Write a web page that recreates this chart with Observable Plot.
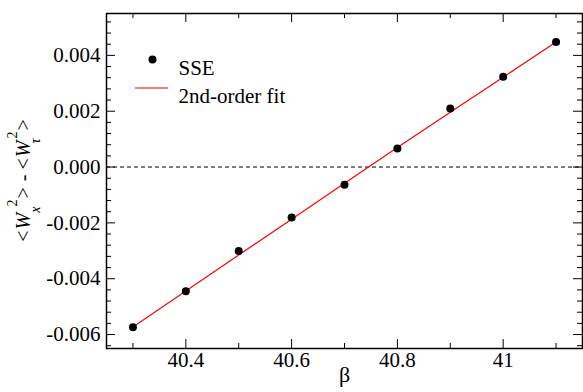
<!DOCTYPE html>
<html><head><meta charset="utf-8">
<script src="https://cdn.jsdelivr.net/npm/d3@7"></script>
<script src="https://cdn.jsdelivr.net/npm/@observablehq/plot@0.6"></script>
<style>
body{margin:0;background:#fff}
svg{display:block}
svg, svg text, svg tspan { font-family: "Liberation Serif", "DejaVu Serif", serif !important; }
</style>
</head><body><div id="chart"></div>
<script>
// ---- data ----
const beta = [40.3, 40.4, 40.5, 40.6, 40.7, 40.8, 40.9, 41.0, 41.1];
const sse  = [-0.00574, -0.00445, -0.00301, -0.00181, -0.00063, 0.00066, 0.00210, 0.00323, 0.00448];
const fit  = [-0.00573, -0.00444, -0.00315, -0.00187, -0.00058, 0.00070, 0.00196, 0.00322, 0.00448];
const xMajorTicks = [40.4, 40.6, 40.8, 41.0];
const xMinorTicks = [40.3, 40.5, 40.7, 40.9, 41.1];
const yMajorTicks = [-0.006, -0.004, -0.002, 0, 0.002, 0.004];
const yMinorTicks = [-0.0064, -0.0056, -0.0052, -0.0048, -0.0044, -0.0036, -0.0032, -0.0028, -0.0024,
                     -0.0016, -0.0012, -0.0008, -0.0004, 0.0004, 0.0008, 0.0012, 0.0016,
                     0.0024, 0.0028, 0.0032, 0.0036, 0.0044, 0.0048, 0.0052];
const xTickLabels = ["40.4", "40.6", "40.8", "41"];
const yTickLabels = ["-0.006", "-0.004", "-0.002", "0.000", "0.002", "0.004"];
const legendLabels = ["SSE", "2nd-order fit"];
const xLabel = "β";

const rows = beta.map((b, i) => ({beta: b, sse: sse[i], fit: fit[i]}));

const W = 583, H = 392, mL = 106, mR = 1, mT = 13, mB = 44;
const innerW = W - mL - mR, innerH = H - mT - mB;
const MAJ = 9, MIN = 5;
const font = "Liberation Serif";

const plot = Plot.plot({
  width: W, height: H,
  marginLeft: mL, marginRight: mR, marginTop: mT, marginBottom: mB,
  x: {domain: [40.25, 41.15], axis: null},
  y: {domain: [-0.0065, 0.0055], axis: null},
  style: {fontFamily: font, fontSize: "21px", color: "black", background: "white"},
  marks: [
    Plot.ruleY([0], {stroke: "black", strokeWidth: 1, strokeDasharray: "4,3"}),
    Plot.line(rows, {x: "beta", y: "fit", stroke: "#ff0000", strokeWidth: 1.2}),
    Plot.dot(rows, {x: "beta", y: "sse", r: 4, fill: "black"}),
    // inward ticks, all four sides
    Plot.tickX(xMajorTicks, {x: d => d, insetTop: innerH - MAJ, stroke: "black"}),
    Plot.tickX(xMajorTicks, {x: d => d, insetBottom: innerH - MAJ, stroke: "black"}),
    Plot.tickX(xMinorTicks, {x: d => d, insetTop: innerH - MIN, stroke: "black"}),
    Plot.tickX(xMinorTicks, {x: d => d, insetBottom: innerH - MIN, stroke: "black"}),
    Plot.tickY(yMajorTicks, {y: d => d, insetRight: innerW - MAJ, stroke: "black"}),
    Plot.tickY(yMajorTicks, {y: d => d, insetLeft: innerW - MAJ, stroke: "black"}),
    Plot.tickY(yMinorTicks, {y: d => d, insetRight: innerW - MIN, stroke: "black"}),
    Plot.tickY(yMinorTicks, {y: d => d, insetLeft: innerW - MIN, stroke: "black"}),
    // tick labels
    Plot.text(xMajorTicks, {x: d => d, frameAnchor: "bottom", dy: 4, lineAnchor: "top",
                            text: (d, i) => xTickLabels[i], fontSize: 21, fill: "black"}),
    Plot.text(yMajorTicks, {y: d => d, frameAnchor: "left", dx: -6, textAnchor: "end",
                            text: (d, i) => yTickLabels[i], fontSize: 21, fill: "black"}),
    Plot.frame({stroke: "black", strokeWidth: 1.5}),
    // legend
    Plot.dot([legendLabels[0]], {frameAnchor: "top-left", dx: 46, dy: 46, r: 4, fill: "black"}),
    Plot.text([legendLabels[0]], {frameAnchor: "top-left", dx: 72, dy: 46.5, text: d => d,
                                  textAnchor: "start", fontSize: 21, fill: "black"}),
    Plot.text([legendLabels[1]], {frameAnchor: "top-left", dx: 72, dy: 75, text: d => d,
                                  textAnchor: "start", fontSize: 21, fill: "black"}),
    // x label
    Plot.text([xLabel], {frameAnchor: "bottom", dy: 33, text: d => d, fontSize: 22, fill: "black"})
  ]
});

const svg = d3.select(plot);
// legend line
svg.append("line")
  .attr("x1", mL + 29).attr("x2", mL + 62)
  .attr("y1", mT + 75).attr("y2", mT + 75)
  .attr("stroke", "#ff0000").attr("stroke-width", 1.2);

// y label: <W_x^2> - <W_tau^2>
const yl = svg.append("text")
  .attr("transform", `translate(30,${mT + innerH / 2}) rotate(-90)`)
  .attr("text-anchor", "middle")
  .attr("font-size", 20)
  .attr("fill", "black");
function group(sub, subDx) {
  yl.append("tspan").text("<");
  yl.append("tspan").attr("font-style", "italic").attr("dx", 1).text("W");
  yl.append("tspan").attr("font-size", 14).attr("font-style", "italic").attr("dx", subDx).attr("dy", 10).text(sub);
  yl.append("tspan").attr("font-size", 14).attr("dy", -23).text("2");
  yl.append("tspan").attr("dx", 1).attr("dy", 13).text(">");
}
group("x", 0);
yl.append("tspan").attr("dx", 1).text(" - ");
group("τ", -3);

document.getElementById("chart").appendChild(plot);
</script>
</body></html>
